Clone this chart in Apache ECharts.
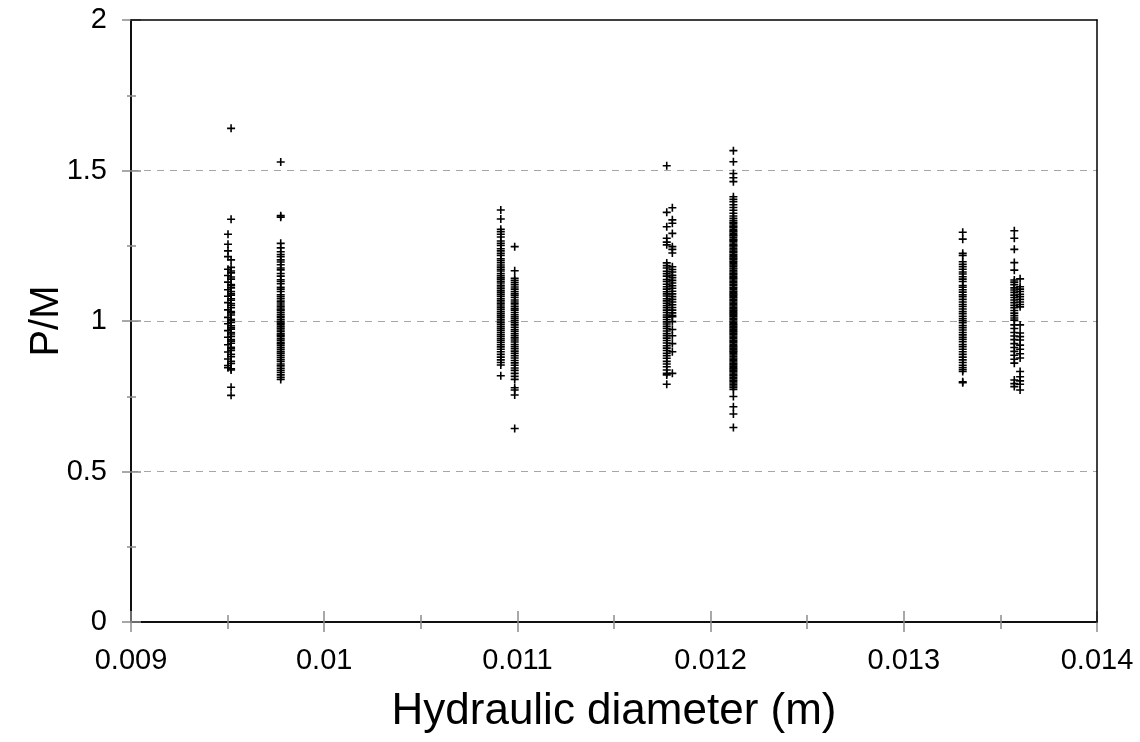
<!DOCTYPE html>
<html>
<head>
<meta charset="utf-8">
<script src="https://cdn.jsdelivr.net/npm/echarts@6/dist/echarts.min.js"></script>
<style>
html,body{margin:0;padding:0;background:#fff;}
#c{width:1140px;height:742px;}
</style>
</head>
<body>
<div id="c"></div>
<script>
// Hydraulic diameter (m) of each measurement group
const groupX = [0.009502, 0.009518, 0.009775, 0.010914, 0.010986, 0.011773, 0.011802, 0.012118, 0.013305, 0.013572, 0.013602];

// P/M values of each group
const pmA1 = [1.288, 1.255, 1.233, 1.214, 1.172, 1.151, 1.129, 1.104, 1.082, 1.061, 1.037, 1.012, 0.991, 0.968, 0.946, 0.921, 0.897, 0.874, 0.852, 0.845];
const pmA2 = [1.640, 1.338, 1.203, 1.178, 1.166, 1.160, 1.146, 1.139, 1.121, 1.117, 1.110, 1.098, 1.091, 1.086, 1.074, 1.069, 1.058, 1.052, 1.044, 1.031, 1.027, 1.020, 1.006, 1.001, 0.995, 0.984, 0.978, 0.973, 0.962, 0.957, 0.949, 0.938, 0.933, 0.926, 0.913, 0.908, 0.902, 0.889, 0.881, 0.866, 0.859, 0.841, 0.837, 0.780, 0.753];
const pmB = [1.528, 1.350, 1.345, 1.258, 1.243, 1.230, 1.221, 1.214, 1.203, 1.196, 1.187, 1.176, 1.170, 1.158, 1.149, 1.137, 1.131, 1.124, 1.112, 1.106, 1.098, 1.087, 1.081, 1.074, 1.066, 1.060, 1.053, 1.047, 1.040, 1.036, 1.029, 1.022, 1.016, 1.011, 1.004, 0.998, 0.993, 0.987, 0.981, 0.976, 0.970, 0.965, 0.958, 0.953, 0.948, 0.941, 0.936, 0.929, 0.924, 0.918, 0.911, 0.905, 0.898, 0.893, 0.886, 0.879, 0.872, 0.866, 0.857, 0.851, 0.843, 0.836, 0.829, 0.821, 0.813, 0.806];
const pmC = [1.369, 1.339, 1.305, 1.297, 1.288, 1.279, 1.266, 1.258, 1.251, 1.240, 1.233, 1.225, 1.218, 1.207, 1.201, 1.194, 1.186, 1.179, 1.172, 1.166, 1.158, 1.151, 1.145, 1.139, 1.132, 1.126, 1.119, 1.113, 1.107, 1.100, 1.094, 1.088, 1.082, 1.075, 1.069, 1.063, 1.057, 1.050, 1.044, 1.038, 1.031, 1.025, 1.019, 1.013, 1.006, 1.000, 0.994, 0.988, 0.981, 0.975, 0.969, 0.962, 0.955, 0.949, 0.942, 0.936, 0.929, 0.921, 0.914, 0.906, 0.898, 0.889, 0.880, 0.871, 0.862, 0.854, 0.818];
const pmD = [1.247, 1.167, 1.142, 1.135, 1.128, 1.121, 1.113, 1.106, 1.098, 1.091, 1.085, 1.078, 1.070, 1.063, 1.057, 1.049, 1.042, 1.036, 1.028, 1.021, 1.014, 1.008, 1.001, 0.994, 0.987, 0.979, 0.972, 0.966, 0.958, 0.951, 0.944, 0.937, 0.930, 0.922, 0.915, 0.908, 0.900, 0.893, 0.885, 0.877, 0.869, 0.861, 0.853, 0.844, 0.836, 0.826, 0.816, 0.806, 0.778, 0.771, 0.754, 0.643];
const pmE1 = [1.516, 1.361, 1.313, 1.275, 1.262, 1.253, 1.193, 1.184, 1.176, 1.165, 1.157, 1.149, 1.138, 1.131, 1.122, 1.114, 1.106, 1.097, 1.090, 1.083, 1.074, 1.067, 1.059, 1.051, 1.044, 1.036, 1.028, 1.020, 1.013, 1.005, 0.997, 0.990, 0.982, 0.975, 0.967, 0.958, 0.951, 0.943, 0.935, 0.927, 0.918, 0.910, 0.902, 0.893, 0.885, 0.876, 0.866, 0.857, 0.848, 0.837, 0.826, 0.821, 0.790];
const pmE2 = [1.376, 1.336, 1.325, 1.291, 1.247, 1.238, 1.226, 1.180, 1.171, 1.163, 1.152, 1.144, 1.135, 1.126, 1.117, 1.109, 1.099, 1.090, 1.081, 1.072, 1.063, 1.054, 1.045, 1.036, 1.027, 1.018, 1.014, 0.998, 0.972, 0.951, 0.925, 0.898, 0.826];
const pmF = [1.566, 1.529, 1.490, 1.476, 1.463, 1.413, 1.404, 1.396, 1.386, 1.377, 1.368, 1.358, 1.349, 1.341,
  1.334, 1.328, 1.325, 1.319, 1.314, 1.311, 1.305, 1.300, 1.297, 1.291, 1.286, 1.283, 1.278, 1.272, 1.268, 1.265, 1.259, 1.253, 1.250, 1.246, 1.240, 1.236, 1.231, 1.228, 1.222, 1.218, 1.213, 1.208, 1.205, 1.199, 1.195, 1.190, 1.186, 1.182, 1.176, 1.173, 1.167, 1.163, 1.158, 1.155, 1.149, 1.144, 1.141, 1.136, 1.131, 1.127, 1.122, 1.118, 1.112, 1.109, 1.104, 1.099, 1.095, 1.090, 1.086, 1.081, 1.077, 1.072, 1.068, 1.063, 1.059, 1.054, 1.050, 1.045, 1.041, 1.036, 1.032, 1.027, 1.023, 1.018, 1.014, 1.009, 1.005, 1.000, 0.996, 0.991, 0.987, 0.982, 0.978, 0.973, 0.968, 0.964, 0.959, 0.955, 0.950, 0.946, 0.941, 0.936, 0.932, 0.928, 0.923, 0.918, 0.914, 0.909, 0.905, 0.900, 0.896, 0.891, 0.887, 0.882, 0.877, 0.873, 0.868, 0.864, 0.859, 0.855, 0.850, 0.845, 0.841, 0.836, 0.832, 0.827, 0.822, 0.818, 0.813, 0.808, 0.803, 0.799, 0.794, 0.789, 0.784, 0.779, 0.773,
  0.749, 0.715, 0.691, 0.646];
const pmG = [1.295, 1.272, 1.225, 1.218, 1.197, 1.188, 1.180, 1.172, 1.163, 1.156, 1.147, 1.139, 1.131, 1.118, 1.112, 1.104, 1.096, 1.087, 1.081, 1.072, 1.063, 1.055, 1.048, 1.040, 1.031, 1.024, 1.016, 1.008, 1.001, 0.994, 0.985, 0.978, 0.970, 0.962, 0.954, 0.946, 0.939, 0.931, 0.922, 0.915, 0.906, 0.898, 0.889, 0.880, 0.871, 0.862, 0.853, 0.845, 0.838, 0.832, 0.798, 0.795];
const pmH1 = [1.300, 1.275, 1.238, 1.194, 1.169, 1.136, 1.129, 1.121, 1.110, 1.103, 1.095, 1.086, 1.078, 1.070, 1.061, 1.052, 1.044, 1.035, 1.026, 1.018, 1.010, 1.003, 0.987, 0.975, 0.962, 0.950, 0.938, 0.925, 0.912, 0.899, 0.886, 0.873, 0.860, 0.804, 0.792, 0.782];
const pmH2 = [1.140, 1.114, 1.106, 1.098, 1.089, 1.081, 1.072, 1.063, 1.055, 1.047, 0.987, 0.960, 0.948, 0.937, 0.920, 0.906, 0.891, 0.877, 0.832, 0.815, 0.801, 0.790, 0.771];

const groupPM = [pmA1, pmA2, pmB, pmC, pmD, pmE1, pmE2, pmF, pmG, pmH1, pmH2];

// axis settings
const xMin = 0.009, xMax = 0.014, xStep = 0.001;
const yMin = 0, yMax = 2, yStep = 0.5;
const xTitle = 'Hydraulic diameter (m)';
const yTitle = 'P/M';

const points = [];
groupPM.forEach((arr, i) => arr.forEach(v => points.push([groupX[i], v])));

const FONT = "'Liberation Sans', Arial, sans-serif";
const tickGray = '#8c8c8c';
const fmtX = v => String(+v.toFixed(4));

function xAx(extra) {
  return Object.assign({
    type: 'value', min: xMin, max: xMax, interval: xStep,
    axisLine: { show: true, onZero: false, lineStyle: { color: '#000', width: 1.5 } },
    axisTick: { show: false }, minorTick: { show: false },
    axisLabel: { show: false }, splitLine: { show: false }
  }, extra);
}
function yAx(extra) {
  return Object.assign({
    type: 'value', min: yMin, max: yMax, interval: yStep,
    axisLine: { show: true, onZero: false, lineStyle: { color: '#000', width: 1.5 } },
    axisTick: { show: false }, minorTick: { show: false },
    axisLabel: { show: false }, splitLine: { show: false }
  }, extra);
}

const chart = echarts.init(document.getElementById('c'), null, { renderer: 'canvas' });
chart.setOption({
  animation: false,
  backgroundColor: '#fff',
  grid: { left: 131, right: 43, top: 20, bottom: 120, containLabel: false },
  xAxis: [
    xAx({
      position: 'bottom',
      name: xTitle, nameLocation: 'middle', nameGap: 68, nameMoveOverlap: false,
      nameTextStyle: { fontFamily: FONT, fontSize: 44, color: '#000' },
      axisTick: { show: true, inside: false, length: 10, lineStyle: { color: tickGray, width: 1.5 } },
      minorTick: { show: true, splitNumber: 2, length: 7, lineStyle: { color: tickGray, width: 1.5 } },
      axisLabel: { show: true, margin: 24, fontFamily: FONT, fontSize: 29, color: '#000', formatter: fmtX }
    }),
    xAx({
      position: 'bottom',
      axisTick: { show: true, inside: true, length: 11, lineStyle: { color: tickGray, width: 1.5 } },
      minorTick: { show: true, splitNumber: 2, length: 7, lineStyle: { color: tickGray, width: 1.5 } }
    }),
    xAx({ position: 'top', z: 5 })
  ],
  yAxis: [
    yAx({
      position: 'left',
      name: yTitle, nameLocation: 'middle', nameGap: 64, nameMoveOverlap: false,
      nameTextStyle: { fontFamily: FONT, fontSize: 40, color: '#000' },
      axisTick: { show: true, inside: false, length: 9, lineStyle: { color: tickGray, width: 1.5 } },
      minorTick: { show: true, splitNumber: 2, length: 4, lineStyle: { color: tickGray, width: 1.5 } },
      axisLabel: { show: true, margin: 24, fontFamily: FONT, fontSize: 29, color: '#000' },
      splitLine: { show: true, showMinLine: false, showMaxLine: false, lineStyle: { color: '#a6a6a6', width: 1.2, type: [7, 6] } }
    }),
    yAx({
      position: 'left',
      axisTick: { show: true, inside: true, length: 10, lineStyle: { color: tickGray, width: 1.5 } },
      minorTick: { show: true, splitNumber: 2, length: 5, lineStyle: { color: tickGray, width: 1.5 } }
    }),
    yAx({ position: 'right', z: 5 })
  ],
  series: [{
    type: 'scatter',
    xAxisIndex: 0, yAxisIndex: 0,
    data: points,
    symbol: 'path://M0,3.2H8V4.8H0Z M3.2,0H4.8V8H3.2Z',
    symbolSize: 8,
    itemStyle: { color: '#000', opacity: 1 },
    silent: true,
    z: 3
  }]
});
</script>
</body>
</html>
